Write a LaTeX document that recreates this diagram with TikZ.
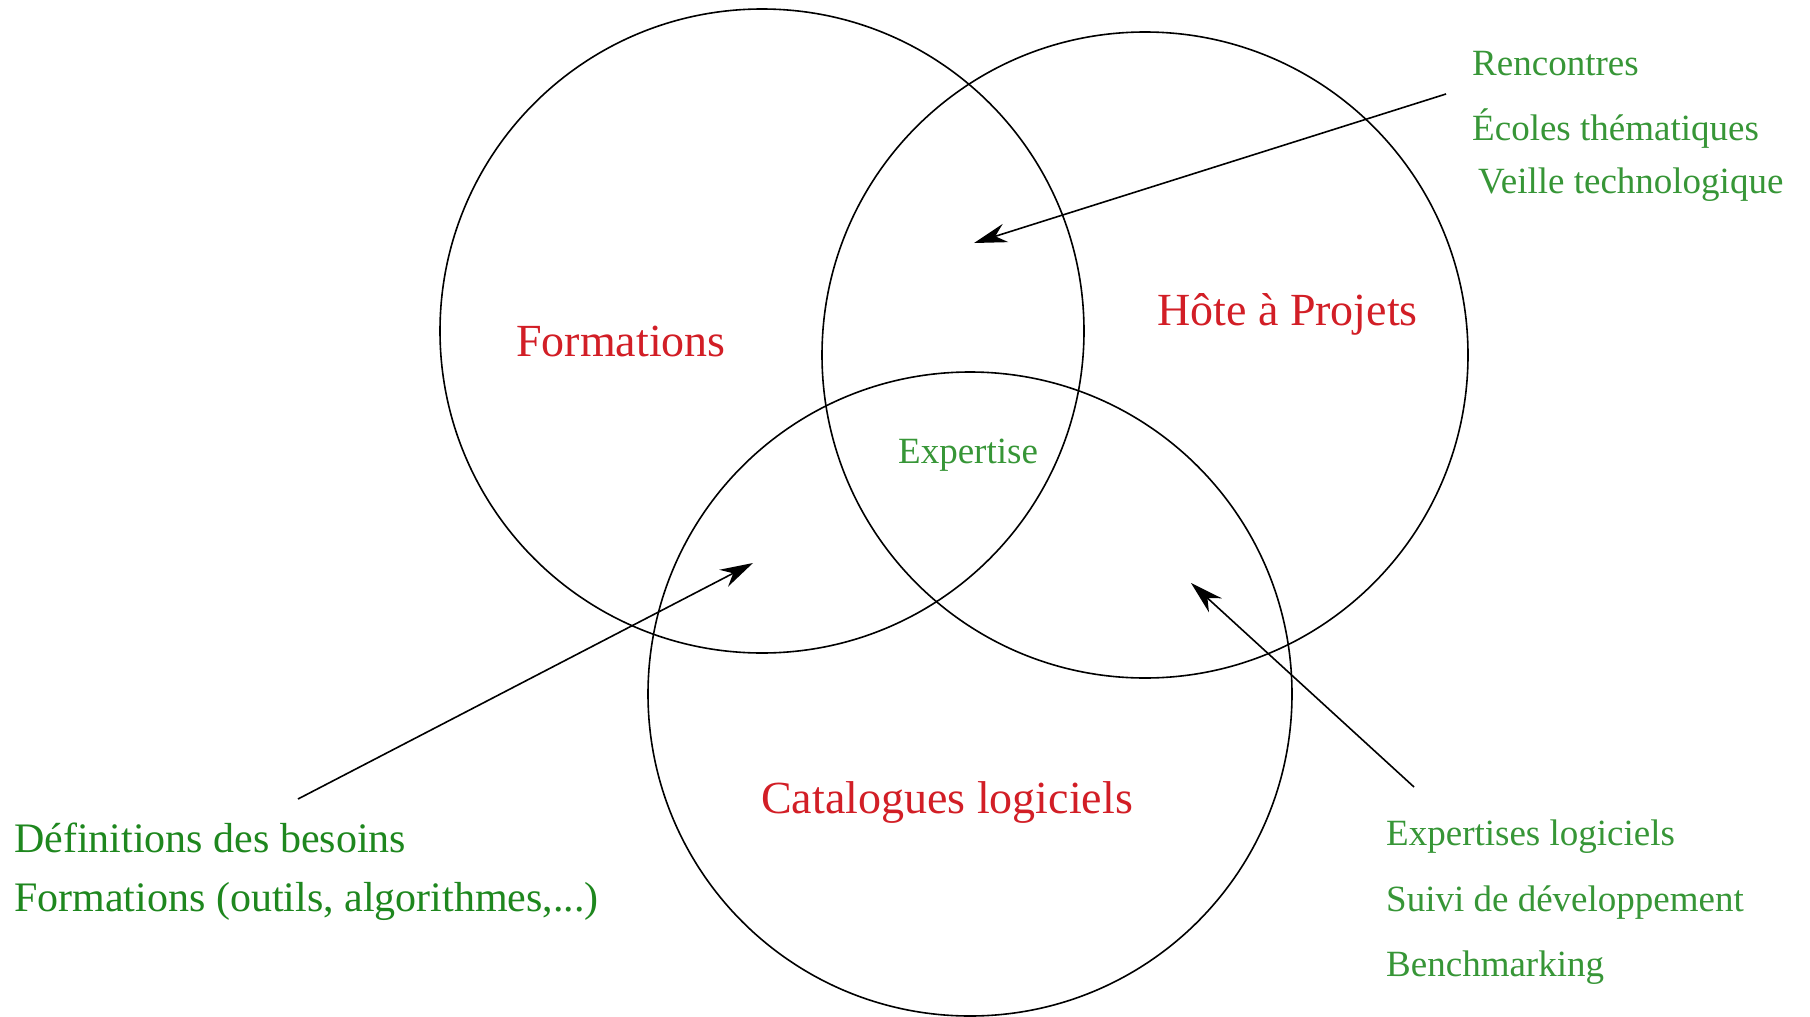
\documentclass[tikz,border=0pt]{standalone}
\usepackage{fontspec}
\setmainfont{Liberation Serif}
\usetikzlibrary{arrows.meta}
\definecolor{lblred}{RGB}{210,30,38}
\definecolor{grdark}{RGB}{30,135,30}
\definecolor{grlight}{RGB}{55,150,55}
\tikzset{
  ring/.style={draw=black,line width=1.6pt},
  pointer/.style={draw=black,line width=1.6pt,-{Stealth[length=33pt,width=19pt]}},
  title/.style={text=lblred,font=\fontsize{46}{50}\selectfont,anchor=base west,inner sep=0pt},
  note/.style={text=grlight,font=\fontsize{37}{40}\selectfont,anchor=base west,inner sep=0pt},
  bignote/.style={text=grdark,font=\fontsize{42}{46}\selectfont,anchor=base west,inner sep=0pt}
}
\begin{document}
\begin{tikzpicture}[x=1pt,y=-1pt]
\useasboundingbox[fill=white] (0,0) rectangle (1810,1017);
% circles
\draw[ring] (762,331) circle[radius=322];
\draw[ring] (1145,355) circle[radius=323];
\draw[ring] (970,694) circle[radius=322];
% titles
\node[title] (form) at (516,356) {Formations};
\node[title] (hote) at (1157,325) {Hôte à Projets};
\node[title] (cata) at (761,813) {Catalogues logiciels};
\node[note] (expe) at (898,463) {Expertise};
% top right notes
\node[note] (renc) at (1472,75) {Rencontres};
\node[note] (ecol) at (1472,140) {Écoles thématiques};
\node[note] (veil) at (1478,193) {Veille technologique};
% left notes
\node[bignote] (defi) at (14,852) {Définitions des besoins};
\node[bignote] (fout) at (14,911) {Formations (outils, algorithmes,...)};
% bottom right notes
\node[note] (expl) at (1386,845) {Expertises logiciels};
\node[note] (suiv) at (1386,911) {Suivi de développement};
\node[note] (benc) at (1386,976) {Benchmarking};
% arrows
\coordinate (a1s) at (1446,94);
\coordinate (a1e) at (974,243);
\coordinate (a2s) at (298,799);
\coordinate (a2e) at (753,563);
\coordinate (a3s) at (1414,787);
\coordinate (a3e) at (1191,583);
\draw[pointer] (a1s) -- (a1e);
\draw[pointer] (a2s) -- (a2e);
\draw[pointer] (a3s) -- (a3e);
\end{tikzpicture}
\end{document}
